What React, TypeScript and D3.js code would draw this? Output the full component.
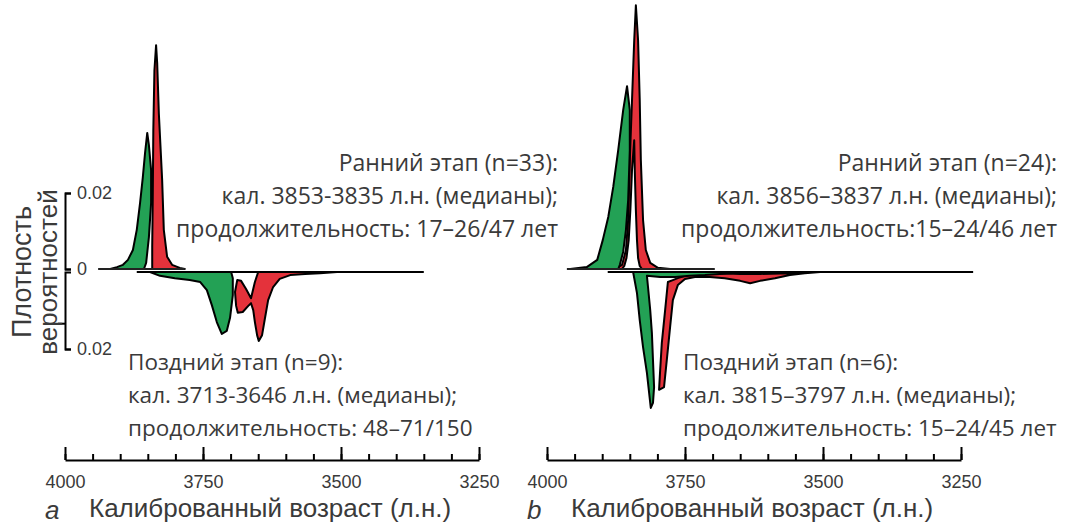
import { useEffect, useRef } from 'react';
import * as d3 from 'd3';

const W = 1068;
const H = 526;
const GREEN = '#23a155';
const RED = '#e4323b';
const INK = '#3a3a3a';
const AXIS_FONT = '"Liberation Sans", Arial, sans-serif';
const NOTE_FONT = '"Open Sans", "Noto Sans", sans-serif';

type Pt = [number, number]; // [calibrated age, probability density]

// --- panel a: early phase (upward) ---
const A_EARLY_START: Pt[] = [
  [3918, 0], [3906, 0.0005], [3895, 0.0011], [3886, 0.0024], [3877, 0.005], [3870, 0.0103],
  [3864, 0.0174], [3859, 0.0242], [3855, 0.0305], [3851, 0.0358], [3848, 0.0326], [3844, 0.026],
  [3844, 0.0174], [3848, 0.0084], [3853, 0.0016], [3857, 0],
];
const A_EARLY_END: Pt[] = [
  [3842, 0], [3842, 0.0058], [3841, 0.0189], [3840, 0.0366], [3838, 0.0523], [3835, 0.0589],
  [3833, 0.0542], [3830, 0.041], [3824, 0.0234], [3821, 0.0103], [3815, 0.0032], [3806, 0.0011],
  [3792, 0.0003], [3783, 0],
];
// --- panel a: late phase (downward) ---
const A_LATE_START: Pt[] = [
  [3846, 0], [3828, 0.001], [3801, 0.0016], [3774, 0.0021], [3755, 0.0026], [3743, 0.0047],
  [3734, 0.0086], [3725, 0.013], [3716, 0.0161], [3707, 0.0153], [3701, 0.0119], [3696, 0.006],
  [3696, 0.0016], [3699, 0],
];
const A_LATE_END: Pt[] = [
  [3650, 0], [3656, 0.0026], [3663, 0.0068], [3672, 0.0044], [3681, 0.0023], [3688, 0.0021],
  [3692, 0.0052], [3690, 0.0088], [3687, 0.0106], [3678, 0.0104], [3668, 0.0088], [3663, 0.0081],
  [3659, 0.0099], [3656, 0.013], [3652, 0.0164], [3649, 0.0179], [3643, 0.0164], [3638, 0.0122],
  [3632, 0.0073], [3623, 0.0039], [3611, 0.0018], [3592, 0.0008], [3565, 0.0005], [3538, 0.0003],
  [3507, 0],
];

// --- panel b: early phase (upward) ---
const B_EARLY_END: Pt[] = [
  [3877, 0], [3864, 0.0011], [3857, 0.005], [3853, 0.0129], [3850, 0.0287], [3846, 0.0444],
  [3842, 0.0602], [3839, 0.0694], [3835, 0.0602], [3832, 0.0444], [3830, 0.0287], [3826, 0.0129],
  [3821, 0.005], [3813, 0.0016], [3799, 0.0003], [3777, 0],
];
const B_EARLY_START: Pt[] = [
  [3958, 0], [3928, 0.0005], [3909, 0.0024], [3899, 0.0076], [3889, 0.0137], [3880, 0.0216],
  [3871, 0.0313], [3862, 0.0418], [3855, 0.0481], [3850, 0.0418], [3850, 0.0313], [3853, 0.0181],
  [3857, 0.0103], [3862, 0.0045], [3868, 0.0011], [3871, 0],
];
const B_EARLY_INNER: Pt[] = [
  [3864, 0], [3860, 0.0008], [3856, 0.0029], [3852, 0.0076], [3849, 0.0155], [3846, 0.026],
  [3842, 0.0339], [3841, 0.026], [3839, 0.0155], [3837, 0.0076], [3835, 0.0029], [3832, 0.0008],
  [3828, 0],
];
// --- panel b: late phase (downward) ---
const B_LATE_END: Pt[] = [
  [3781, 0.0026], [3786, 0.0099], [3792, 0.0184], [3795, 0.0255], [3797, 0.0306], [3788, 0.0299],
  [3783, 0.0229], [3777, 0.0143], [3772, 0.0073], [3763, 0.0034], [3750, 0.0018], [3732, 0.0013],
  [3705, 0.0013], [3678, 0.0016], [3650, 0.0023], [3632, 0.0029], [3614, 0.0023], [3587, 0.0016],
  [3560, 0.0008], [3533, 0.0003], [3505, 0], [3560, 0.0003], [3614, 0.0005], [3650, 0.0005],
  [3687, 0.0003], [3723, 0.0005], [3745, 0.0008], [3763, 0.0016], [3772, 0.0021],
];
const B_LATE_START: Pt[] = [
  [3844, 0], [3837, 0.0055], [3832, 0.0125], [3826, 0.0195], [3819, 0.0262], [3815, 0.0314],
  [3812, 0.0353], [3808, 0.034], [3806, 0.0299], [3808, 0.0229], [3810, 0.0158], [3813, 0.0099],
  [3817, 0.0039], [3819, 0.001], [3795, 0.0013], [3768, 0.0013], [3741, 0.001], [3714, 0.0008],
  [3687, 0.0005], [3665, 0.0003], [3665, 0],
];

// zero lines [from, to] in years
const A_ZERO_UP: Pt = [3940, 3783];
const A_ZERO_DOWN: Pt = [3870, 3350];
const B_ZERO_UP: Pt = [3964, 3696];
const B_ZERO_DOWN: Pt = [3890, 3228];

const X_DOMAIN = [4000, 3250];
const MAJOR_TICKS = [4000, 3750, 3500, 3250];
const MINOR_TICKS = d3.range(4000, 3249, -50);
const Y_TICKS_UP = [0, 0.02];
const Y_TICKS_DOWN = [0.02];
const Y_MARK_DOWN = [0.0133];

const X_TITLE = 'Калиброванный возраст (л.н.)';
const Y_TITLE = ['Плотность', 'вероятностей'];

const A_EARLY_TEXT = ['Ранний этап (n=33):', 'кал. 3853-3835 л.н. (медианы);', 'продолжительность: 17–26/47 лет'];
const A_LATE_TEXT = ['Поздний этап (n=9):', 'кал. 3713-3646 л.н. (медианы);', 'продолжительность: 48–71/150'];
const B_EARLY_TEXT = ['Ранний этап (n=24):', 'кал. 3856–3837 л.н. (медианы);', 'продолжительность:15–24/46 лет'];
const B_LATE_TEXT = ['Поздний этап (n=6):', 'кал. 3815–3797 л.н. (медианы);', 'продолжительность: 15–24/45 лет'];

const PANELS = [
  {
    letter: 'a', x0: 65, yAxis: true,
    up: [{ pts: A_EARLY_START, fill: GREEN }, { pts: A_EARLY_END, fill: RED }],
    down: [{ pts: A_LATE_START, fill: GREEN }, { pts: A_LATE_END, fill: RED }],
    zeroUp: A_ZERO_UP, zeroDown: A_ZERO_DOWN,
    early: A_EARLY_TEXT, earlyX: 558, late: A_LATE_TEXT, lateX: 128,
  },
  {
    letter: 'b', x0: 547, yAxis: false,
    up: [{ pts: B_EARLY_END, fill: RED }, { pts: B_EARLY_START, fill: GREEN }, { pts: B_EARLY_INNER, fill: '#fff' }],
    down: [{ pts: B_LATE_END, fill: RED }, { pts: B_LATE_START, fill: GREEN }],
    zeroUp: B_ZERO_UP, zeroDown: B_ZERO_DOWN,
    early: B_EARLY_TEXT, earlyX: 1057, late: B_LATE_TEXT, lateX: 683,
  },
];

export default function App() {
  const svgRef = useRef<SVGSVGElement>(null);

  useEffect(() => {
    const svg = d3.select(svgRef.current);
    svg.selectAll('*').remove();

    const axisY = 460;
    const yUp = d3.scaleLinear().domain([0, 0.02]).range([269, 193]);
    const yDown = d3.scaleLinear().domain([0, 0.02]).range([272, 349]);

    PANELS.forEach((p) => {
      const x = d3.scaleLinear().domain(X_DOMAIN).range([p.x0, p.x0 + 414]);
      const g = svg.append('g');

      const lineUp = d3.line<Pt>().x((d) => x(d[0])).y((d) => yUp(d[1])).curve(d3.curveLinearClosed);
      const lineDown = d3.line<Pt>().x((d) => x(d[0])).y((d) => yDown(d[1])).curve(d3.curveLinearClosed);

      const drawShape = (s: { pts: Pt[]; fill: string }, gen: d3.Line<Pt>) => {
        g.append('path')
          .attr('d', gen(s.pts))
          .attr('fill', s.fill)
          .attr('stroke', '#000')
          .attr('stroke-width', 2)
          .attr('stroke-linejoin', 'round');
      };
      p.down.forEach((s) => drawShape(s, lineDown));
      p.up.forEach((s) => drawShape(s, lineUp));

      // zero lines
      g.append('line')
        .attr('x1', x(p.zeroUp[0])).attr('x2', x(p.zeroUp[1]))
        .attr('y1', yUp(0)).attr('y2', yUp(0))
        .attr('stroke', '#222').attr('stroke-width', 2);
      g.append('line')
        .attr('x1', x(p.zeroDown[0])).attr('x2', x(p.zeroDown[1]))
        .attr('y1', yDown(0)).attr('y2', yDown(0))
        .attr('stroke', '#000').attr('stroke-width', 2);

      // x axis: minor + major ticks pointing up
      const minor = g.append('g')
        .attr('transform', `translate(0,${axisY})`)
        .call(d3.axisBottom(x).tickValues(MINOR_TICKS).tickSize(-6).tickSizeOuter(0).tickFormat(() => ''));
      minor.select('.domain').remove();
      const major = g.append('g')
        .attr('transform', `translate(0,${axisY})`)
        .call(d3.axisBottom(x).tickValues(MAJOR_TICKS).tickSize(-13).tickSizeOuter(0).tickPadding(15).tickFormat(d3.format('d')));
      g.selectAll('.tick line').attr('stroke', '#000').attr('stroke-width', 2);
      major.select('.domain').attr('stroke', '#000').attr('stroke-width', 2);
      major.selectAll('.tick text')
        .attr('fill', INK)
        .style('font-family', AXIS_FONT)
        .style('font-size', '18px');

      // x title + panel letter
      g.append('text')
        .attr('x', p.x0 + 24).attr('y', 517)
        .attr('fill', INK)
        .style('font-family', AXIS_FONT)
        .style('font-size', '26px')
        .text(X_TITLE);
      g.append('text')
        .attr('x', p.x0 - 20).attr('y', 519)
        .attr('fill', INK)
        .style('font-family', AXIS_FONT)
        .style('font-size', '26px')
        .style('font-style', 'italic')
        .text(p.letter);

      // annotation blocks
      p.early.forEach((t, i) => {
        g.append('text')
          .attr('x', p.earlyX).attr('y', 171 + i * 33)
          .attr('text-anchor', 'end')
          .attr('fill', INK)
          .style('font-family', NOTE_FONT)
          .style('font-size', '23px')
          .text(t);
      });
      p.late.forEach((t, i) => {
        g.append('text')
          .attr('x', p.lateX).attr('y', 370 + i * 33)
          .attr('fill', INK)
          .style('font-family', NOTE_FONT)
          .style('font-size', '22.5px')
          .text(t);
      });

      if (p.yAxis) {
        const ax = p.x0;
        const up = g.append('g')
          .attr('transform', `translate(${ax},0)`)
          .call(d3.axisRight(yUp).tickValues(Y_TICKS_UP).tickSize(6).tickSizeOuter(6).tickPadding(6)
            .tickFormat((d) => (+d === 0 ? '0' : '0.02')));
        const down = g.append('g')
          .attr('transform', `translate(${ax},0)`)
          .call(d3.axisRight(yDown).tickValues(Y_TICKS_DOWN).tickSize(6).tickSizeOuter(6).tickPadding(6)
            .tickFormat(() => '0.02'));
        const mark = g.append('g')
          .attr('transform', `translate(${ax},0)`)
          .call(d3.axisLeft(yDown).tickValues(Y_MARK_DOWN).tickSize(7).tickFormat(() => ''));
        mark.select('.domain').remove();
        [up, down, mark].forEach((a) => {
          a.selectAll('.domain, .tick line').attr('stroke', '#000').attr('stroke-width', 2);
          a.selectAll('.tick text')
            .attr('fill', INK)
            .style('font-family', AXIS_FONT)
            .style('font-size', '18px');
        });

        Y_TITLE.forEach((t, i) => {
          g.append('text')
            .attr('transform', `translate(${i === 0 ? 31 : 57},272) rotate(-90)`)
            .attr('text-anchor', 'middle')
            .attr('fill', INK)
            .style('font-family', AXIS_FONT)
            .style('font-size', i === 0 ? '27px' : '26px')
            .text(t);
        });
      }
    });
  }, []);

  return (
    <svg
      ref={svgRef}
      width={W}
      height={H}
      viewBox={`0 0 ${W} ${H}`}
      style={{ position: 'absolute', left: 0, top: 0, background: '#fff' }}
    />
  );
}
